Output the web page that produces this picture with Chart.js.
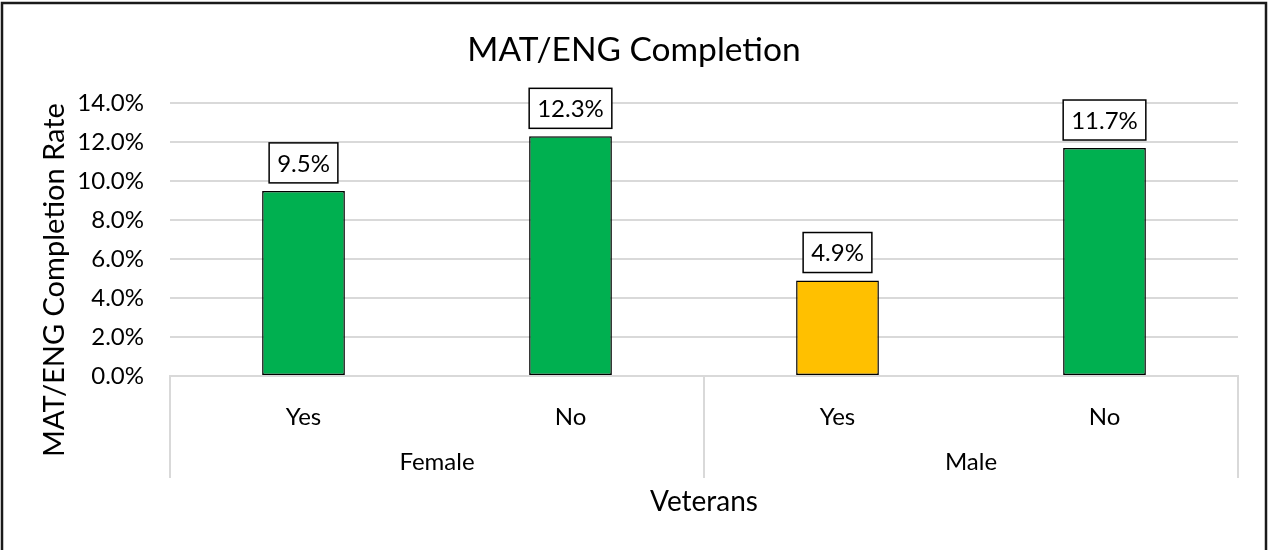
<!DOCTYPE html>
<html>
<head>
<meta charset="utf-8">
<script src="https://cdn.jsdelivr.net/npm/chart.js@4.4.1/dist/chart.umd.min.js"></script>
<style>
  html, body { margin: 0; padding: 0; background: #fff; }
  canvas { display: block; }
</style>
</head>
<body>
<canvas id="chart" width="1268" height="550"></canvas>
<script>
const categories = ['Yes', 'No', 'Yes', 'No'];
const groups = ['Female', 'Male'];
const completionRates = [9.5, 12.3, 4.9, 11.7];
const barColors = ['#00B050', '#00B050', '#FFC000', '#00B050'];
const yTickLabels = ['0.0%', '2.0%', '4.0%', '6.0%', '8.0%', '10.0%', '12.0%', '14.0%'];

const FONT = 'Lato, "Open Sans", sans-serif';
const GRID = '#d9d9d9';

// frame, multi-level category axis, axis titles and the boxed data labels
const excelBits = {
    id: 'excelBits',
    afterDraw(chart) {
        const { ctx, chartArea } = chart;
        const x = chart.scales.x;
        const meta = chart.getDatasetMeta(0);
        ctx.save();

        // separators of the grouped axis
        const half = (x.getPixelForValue(1) - x.getPixelForValue(0)) / 2;
        const seps = [chartArea.left, x.getPixelForValue(1) + half, chartArea.right];
        ctx.strokeStyle = GRID;
        ctx.lineWidth = 2;
        seps.forEach(px => {
            ctx.beginPath();
            ctx.moveTo(px, chartArea.bottom);
            ctx.lineTo(px, chartArea.bottom + 102);
            ctx.stroke();
        });

        ctx.fillStyle = '#000';
        ctx.textAlign = 'center';
        ctx.textBaseline = 'middle';
        ctx.font = '24px ' + FONT;
        groups.forEach((g, i) => {
            const cx = (x.getPixelForValue(i * 2) + x.getPixelForValue(i * 2 + 1)) / 2;
            ctx.fillText(g, cx, chartArea.bottom + 86);
        });

        ctx.font = '28px ' + FONT;
        ctx.fillText('Veterans', (chartArea.left + chartArea.right) / 2, chartArea.bottom + 126);

        ctx.save();
        ctx.translate(55, 280);
        ctx.rotate(-Math.PI / 2);
        ctx.font = '29px ' + FONT;
        ctx.fillText('MAT/ENG Completion Rate', 0, 0);
        ctx.restore();

        // data labels
        ctx.font = '24px ' + FONT;
        meta.data.forEach((bar, i) => {
            const txt = completionRates[i].toFixed(1) + '%';
            const w = ctx.measureText(txt).width + 16;
            const h = 40;
            const bx = bar.x - w / 2;
            const by = bar.y - 8 - h;
            ctx.fillStyle = '#fff';
            ctx.fillRect(bx, by, w, h);
            ctx.strokeStyle = '#000';
            ctx.lineWidth = 1.5;
            ctx.strokeRect(bx, by, w, h);
            ctx.fillStyle = '#000';
            ctx.fillText(txt, bar.x, by + h / 2 + 1);
        });

        // outer frame
        ctx.strokeStyle = '#1a1a1a';
        ctx.lineWidth = 2.5;
        ctx.beginPath();
        ctx.moveTo(2, 552);
        ctx.lineTo(2, 3);
        ctx.lineTo(1266, 3);
        ctx.lineTo(1266, 552);
        ctx.stroke();
        ctx.restore();
    }
};

new Chart(document.getElementById('chart'), {
    type: 'bar',
    data: {
        labels: categories,
        datasets: [{
            data: completionRates,
            backgroundColor: barColors,
            borderColor: '#000',
            borderWidth: 1.5,
            borderSkipped: false,
            categoryPercentage: 1,
            barPercentage: 0.31
        }]
    },
    options: {
        responsive: false,
        devicePixelRatio: 1,
        animation: false,
        layout: { padding: { left: 30, right: 30, top: 0, bottom: 0 } },
        plugins: {
            legend: { display: false },
            tooltip: { enabled: false },
            title: {
                display: true,
                text: 'MAT/ENG Completion',
                color: '#000',
                font: { family: FONT, size: 33.5, weight: 'normal' },
                padding: { top: 30, bottom: 33 }
            }
        },
        scales: {
            x: {
                grid: { display: false },
                border: { color: GRID, width: 2 },
                ticks: {
                    color: '#000',
                    font: { family: FONT, size: 24 },
                    padding: 19,
                    maxRotation: 0
                },
                afterFit(scale) { scale.height = 174; }
            },
            y: {
                min: 0,
                max: 14,
                grid: { color: GRID, lineWidth: 2, drawTicks: false },
                border: { display: false },
                ticks: {
                    stepSize: 2,
                    color: '#000',
                    font: { family: FONT, size: 24 },
                    padding: 26,
                    callback: (v, i) => yTickLabels[i]
                },
                afterFit(scale) { scale.width = 140; }
            }
        }
    },
    plugins: [excelBits]
});
</script>
</body>
</html>
